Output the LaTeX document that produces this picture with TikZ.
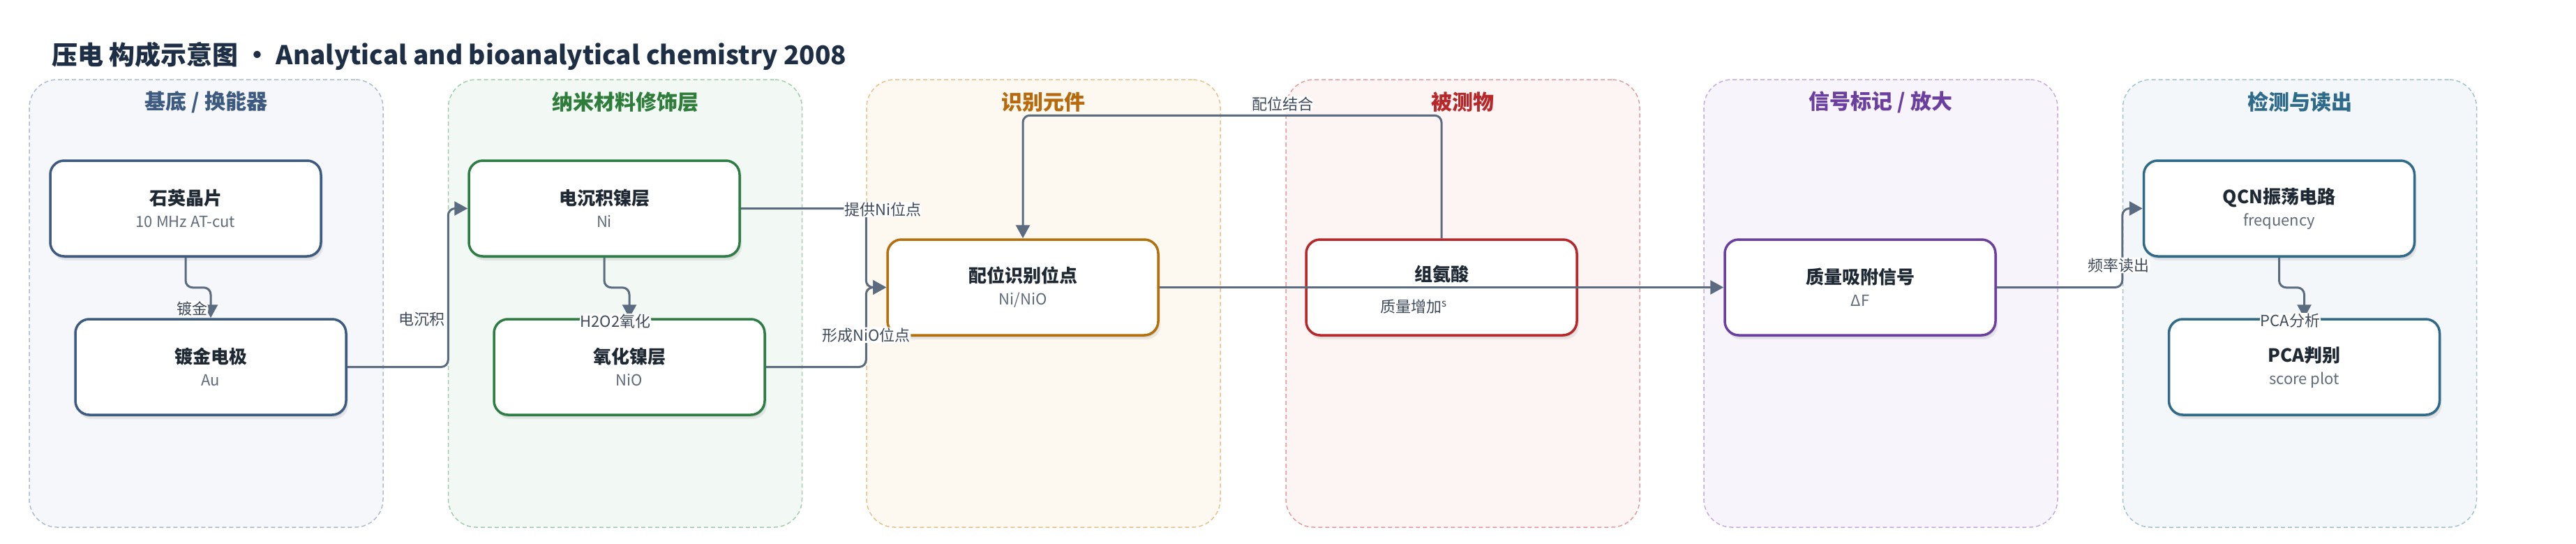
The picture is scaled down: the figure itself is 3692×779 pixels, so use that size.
\documentclass[tikz,border=0pt]{standalone}
\usepackage{fontspec}
\setmainfont{Noto Sans CJK SC}
\usetikzlibrary{arrows.meta,shadows}

\definecolor{ink}{HTML}{1F2933}
\definecolor{subink}{HTML}{5F6B7A}
\definecolor{lblink}{HTML}{3E4A5A}
\definecolor{edgec}{HTML}{5B6B80}
\definecolor{titleink}{HTML}{1E2F45}
\definecolor{bluefill}{HTML}{F5F7FB}   \definecolor{blueline}{HTML}{AEBBD0}
\definecolor{bluetext}{HTML}{3D5A80}   \definecolor{blueedge}{HTML}{3D5A80}
\definecolor{greenfill}{HTML}{F2F8F3}  \definecolor{greenline}{HTML}{A3CDAE}
\definecolor{greentext}{HTML}{2E7D3A}  \definecolor{greenedge}{HTML}{2E7D45}
\definecolor{orangefill}{HTML}{FDF8F0} \definecolor{orangeline}{HTML}{E6C28C}
\definecolor{orangetext}{HTML}{B8690C} \definecolor{orangeedge}{HTML}{B5700E}
\definecolor{redfill}{HTML}{FDF4F4}    \definecolor{redline}{HTML}{E49C9C}
\definecolor{redtext}{HTML}{B8282A}    \definecolor{rededge}{HTML}{B8282A}
\definecolor{purplefill}{HTML}{F7F4FB} \definecolor{purpleline}{HTML}{C6ABDF}
\definecolor{purpletext}{HTML}{6B3FA0} \definecolor{purpleedge}{HTML}{6B3FA0}
\definecolor{tealfill}{HTML}{F3F7F9}   \definecolor{tealline}{HTML}{A3C2D0}
\definecolor{tealtext}{HTML}{2E6B8A}   \definecolor{tealedge}{HTML}{2F6B88}

\newcommand\subtxt{\color{subink}\fontsize{22}{28}\selectfont}

\tikzset{
  grp/.style={draw=#1line, fill=#1fill, line width=1.5pt, dash pattern=on 6pt off 4pt,
    rounded corners=40pt, minimum width=507pt, minimum height=641pt},
  gtitle/.style={text=#1text, font=\fontsize{30}{36}\selectfont\bfseries},
  box/.style={draw=#1edge, fill=white, line width=3.5pt, rounded corners=20pt,
    minimum width=388pt, minimum height=137pt, align=center, text=ink,
    font=\fontsize{26}{32}\selectfont,
    drop shadow={shadow xshift=1pt, shadow yshift=-3pt, opacity=0.10, fill=black},
    drop shadow={shadow xshift=3pt, shadow yshift=-6pt, opacity=0.07, fill=black}},
  flow/.style={draw=edgec, line width=3pt, rounded corners=10pt,
    -{Triangle[length=19pt,width=20pt]}},
  lbl/.style={fill=white, inner sep=1pt, text=lblink, font=\fontsize{22}{24}\selectfont}
}

\begin{document}
\begin{tikzpicture}[x=1pt,y=-1pt]
\useasboundingbox (0,0) rectangle (3692,779);

\node[anchor=base west, inner sep=0pt, text=titleink, font=\fontsize{37}{44}\selectfont\bfseries]
  (ttl) at (74,92) {压电 构成示意图 · Analytical and bioanalytical chemistry 2008};

% groups
\node[grp=blue] (gsub) at (295.5,434.5) {};
\node[grp=green] (gnano) at (896,434.5) {};
\node[grp=orange] (grec) at (1495.5,434.5) {};
\node[grp=red] (gana) at (2096.5,434.5) {};
\node[grp=purple] (gsig) at (2695.5,434.5) {};
\node[grp=teal] (gdet) at (3296,434.5) {};

\node[gtitle=blue] (tsub) at (295.5,146) {基底 / 换能器};
\node[gtitle=green] (tnano) at (896,146) {纳米材料修饰层};
\node[gtitle=orange] (trec) at (1495.5,146) {识别元件};
\node[gtitle=red] (tana) at (2096.5,146) {被测物};
\node[gtitle=purple] (tsig) at (2695.5,146) {信号标记 / 放大};
\node[gtitle=teal] (tdet) at (3296,146) {检测与读出};

% boxes
\node[box=blue] (qz) at (266,298.5) {\textbf{石英晶片}\\{\subtxt 10 MHz AT-cut}};
\node[box=blue] (au) at (302,525.5) {\textbf{镀金电极}\\{\subtxt Au}};
\node[box=green] (ni) at (866,298.5) {\textbf{电沉积镍层}\\{\subtxt Ni}};
\node[box=green] (ox) at (902,525.5) {\textbf{氧化镍层}\\{\subtxt NiO}};
\node[box=orange] (rec) at (1466,411.5) {\textbf{配位识别位点}\\{\subtxt Ni/NiO}};
\node[box=red] (his) at (2066,411.5) {\textbf{组氨酸}\\{\subtxt\strut}};
\node[box=purple] (sig) at (2666,411.5) {\textbf{质量吸附信号}\\{\subtxt ΔF}};
\node[box=teal] (qcn) at (3266.5,298.5) {\textbf{QCN振荡电路}\\{\subtxt frequency}};
\node[box=teal] (pca) at (3302.5,525.5) {\textbf{PCA判别}\\{\subtxt score plot}};

% connectors
\draw[flow] (qz.south) -- ++(0,43) -| (au.north)
  node[lbl, pos=0.85, anchor=east, xshift=-2pt] {镀金};
\draw[flow] (au.east) -| ([xshift=-28pt]ni.west)
  node[lbl, pos=0.65, anchor=east, xshift=-2pt] {电沉积} -- (ni.west);
\draw[flow] (ni.south) -- ++(0,43) -| (ox.north)
  node[lbl, pos=1, xshift=-20pt, yshift=-5pt] {H2O2氧化};
\draw[flow] (ni.east) -| ([xshift=-29pt]rec.west)
  node[lbl, pos=0.5, xshift=24pt, yshift=-1.5pt] {提供Ni位点} -- (rec.west);
\draw[flow] (ox.east) -| ([xshift=-29pt]rec.west)
  node[lbl, pos=0.7] {形成NiO位点} -- (rec.west);
\draw[flow] (his.north) -- ++(0,-176) -| (rec.north)
  node[lbl, pos=0.19, above=4pt] {配位结合};
\draw[flow] (rec) -- (sig)
  node[lbl, fill=none, pos=0.45, below=15pt] {质量增加\raisebox{8pt}{\fontsize{15}{15}\selectfont s}};
\draw[flow] (sig.east) -| ([xshift=-29pt]qcn.west)
  node[lbl, pos=0.64, xshift=-5pt] {频率读出} -- (qcn.west);
\draw[flow] (qcn.south) -- ++(0,43) -| (pca.north)
  node[lbl, pos=1, xshift=-20pt, yshift=-4pt] {PCA分析};

\end{tikzpicture}
\end{document}
